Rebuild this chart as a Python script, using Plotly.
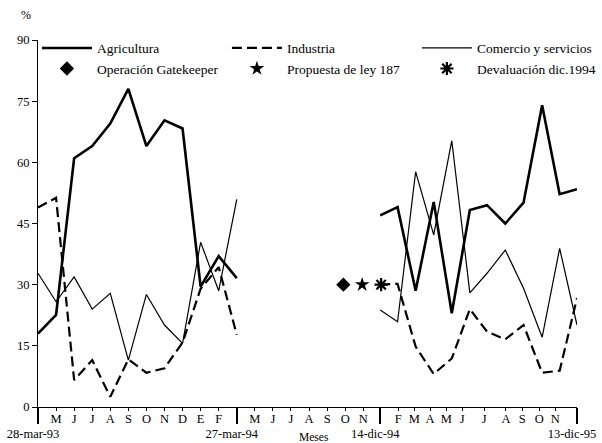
import plotly.graph_objects as go

# posiciones en el eje x (meses) y valores en %
x_93 = [0, 1, 2, 3, 4, 5, 6, 7, 8, 9, 10, 11]
x_95 = [18.94, 19.9, 20.9, 21.9, 22.9, 23.9, 24.85, 25.86, 26.87, 27.9, 28.87, 29.83]

agricultura_93 = [18, 22.6, 61, 64, 69.5, 78, 64, 70.3, 68.3, 29.5, 37, 31.6]
agricultura_95 = [47, 49, 28.5, 50.3, 23, 48.3, 49.5, 45, 50.1, 74, 52.2, 53.4]
industria_93 = [48.9, 51.3, 6.6, 11.5, 2.5, 11.7, 8.4, 9.5, 15.8, 29, 34.3, 17.7]
industria_95 = [30, 30.2, 14.8, 8.1, 11.9, 24, 18.5, 16.6, 20.1, 8.4, 8.9, 26.7]
comercio_93 = [32.8, 25.8, 31.9, 24, 27.9, 11.5, 27.6, 20.1, 15.6, 40.4, 28.5, 50.9]
comercio_95 = [23.8, 20.9, 57.7, 42.2, 65.3, 28, 32.8, 38.5, 29.1, 17.1, 38.9, 20.1]

eventos = ["Operación Gatekeeper", "Propuesta de ley 187", "Devaluación dic.1994"]
eventos_x = [16.9, 17.94, 18.99]
eventos_y = [30, 30, 30]
simbolos = ["diamond", "star", "asterisk-open"]

meses_pos = [1, 2, 3, 4, 5, 6, 7, 8, 9, 10,
             12, 13, 14, 15, 16, 17, 18,
             19.93, 20.82, 21.7, 22.6, 23.48, 24.7, 25.9, 26.8, 27.74, 28.63]
meses_txt = ["M", "J", "J", "A", "S", "O", "N", "D", "E", "F",
             "M", "J", "J", "A", "S", "O", "N",
             "F", "M", "A", "M", "J", "J", "A", "S", "O", "N"]
fechas_pos = [0, 11, 18.94, 29.83]
fechas_txt = ["28-mar-93", "27-mar-94", "14-dic-94", "13-dic-95"]

FONT = "Liberation Serif, DejaVu Serif, serif"

def junta(a, b):
    return a + [None] + b

fig = go.Figure()
fig.add_trace(go.Scatter(x=junta(x_93, x_95), y=junta(agricultura_93, agricultura_95),
                         mode="lines", name="Agricultura",
                         line=dict(color="black", width=2.6)))
fig.add_trace(go.Scatter(x=junta(x_93, x_95), y=junta(industria_93, industria_95),
                         mode="lines", name="Industria",
                         line=dict(color="black", width=2.2, dash="10px,5px")))
fig.add_trace(go.Scatter(x=junta(x_93, x_95), y=junta(comercio_93, comercio_95),
                         mode="lines", name="Comercio y servicios",
                         line=dict(color="black", width=1.2)))
for nom, xx, yy, s in zip(eventos, eventos_x, eventos_y, simbolos):
    fig.add_trace(go.Scatter(x=[xx], y=[yy], mode="markers", name=nom,
                             marker=dict(symbol=s, size=11, color="black",
                                         line=dict(color="black", width=2.2 if "asterisk" in s else 0))))

# eje secundario para las fechas de corte
fig.add_trace(go.Scatter(x=fechas_pos, y=[None] * 4, xaxis="x2", showlegend=False, hoverinfo="skip"))

fig.update_layout(
    width=602, height=443,
    margin=dict(l=38, r=25, t=40, b=36, autoexpand=False),
    paper_bgcolor="white", plot_bgcolor="white",
    font=dict(family=FONT, size=12, color="black"),
    showlegend=True,
    legend=dict(orientation="h", x=-0.002, y=1.02, xanchor="left", yanchor="top",
                itemwidth=50, entrywidth=125, entrywidthmode="pixels",
                bgcolor="rgba(0,0,0,0)", font=dict(family=FONT, size=13.5),
                tracegroupgap=0),
    xaxis=dict(range=[0, 29.83], tickvals=meses_pos, ticktext=meses_txt,
               ticks="outside", ticklen=3, tickwidth=1, tickcolor="black",
               ticklabelstandoff=-3,
               showline=True, linecolor="black", linewidth=1, showgrid=False,
               zeroline=False, tickfont=dict(family=FONT, size=12.5)),
    xaxis2=dict(range=[0, 29.83], overlaying="x", side="bottom", anchor="y",
                tickvals=fechas_pos, ticktext=fechas_txt, ticks="outside", ticklen=16,
                tickwidth=1.5, tickcolor="black", showline=False, showgrid=False,
                zeroline=False, ticklabelshift=-5, ticklabelstandoff=-1,
                tickfont=dict(family=FONT, size=12.5)),
    yaxis=dict(range=[0, 90], tickvals=[0, 15, 30, 45, 60, 75, 90],
               ticks="outside", ticklen=5, tickcolor="black", showline=True,
               linecolor="black", linewidth=1, showgrid=False, zeroline=False,
               tickfont=dict(family=FONT, size=12.5)),
    annotations=[
        dict(text="%", x=-0.035, y=1.068, xref="paper", yref="paper",
             yanchor="middle", showarrow=False, font=dict(family=FONT, size=12)),
        dict(text="Meses", x=0.512, y=-0.082, xref="paper", yref="paper",
             yanchor="middle", showarrow=False, font=dict(family=FONT, size=11.5)),
    ],
)

fig.write_html("out.html", config={"displayModeBar": False},
               post_script="document.body.style.margin='0';")
